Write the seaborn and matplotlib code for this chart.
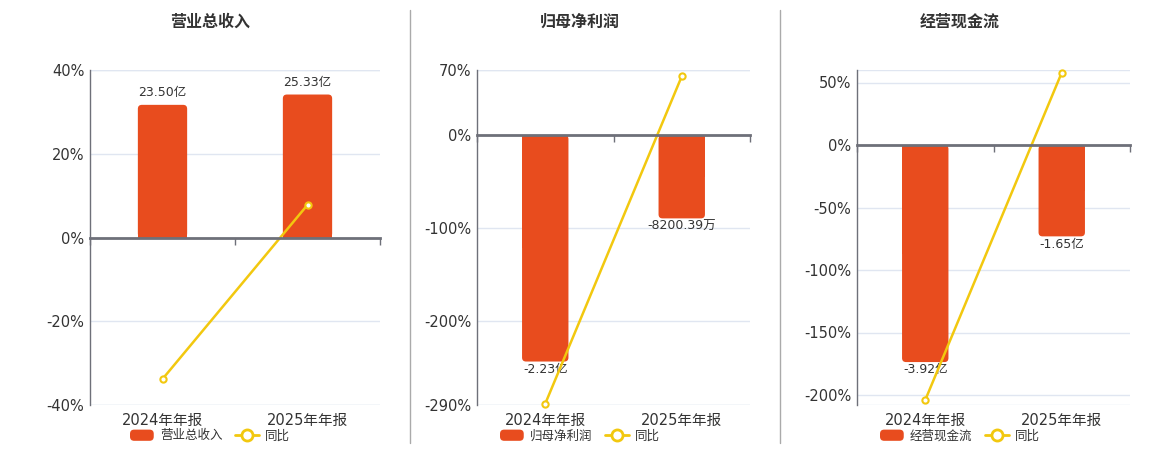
import matplotlib
matplotlib.use("Agg")
import matplotlib.pyplot as plt
import seaborn as sns
import numpy as np
from matplotlib.patches import FancyBboxPatch, Patch
from matplotlib.lines import Line2D
from matplotlib.legend_handler import HandlerPatch

sns.set_theme(style="white")
plt.rcParams['font.family'] = ['DejaVu Sans', 'Noto Sans CJK SC']

# data (bars in 亿, lines in %)
periods = ['2024年年报', '2025年年报']

revenue = [23.50, 25.33]
revenue_yoy = [-33.8, 7.79]
revenue_labels = ['23.50亿', '25.33亿']

net_profit = [-2.23, -0.820039]
net_profit_yoy = [-288.6, 63.2]
net_profit_labels = ['-2.23亿', '-8200.39万']

cash_flow = [-3.92, -1.65]
cash_flow_yoy = [-204.0, 57.9]
cash_flow_labels = ['-3.92亿', '-1.65亿']

titles = ['营业总收入', '归母净利润', '经营现金流']
pct_ticks = [[-40, -20, 0, 20, 40], [-290, -200, -100, 0, 70], [-200, -150, -100, -50, 0, 50]]
pct_lims = [(-40, 40), (-290, 70), (-208, 60)]
bar_scale = [1.348, 109.1, 44.3]   # percent units per 亿 on the hidden bar axis

BAR = '#E84C1E'
LINE = '#F2C80F'
AXIS = '#6E7079'
GRID = '#E0E6F1'
TXT = '#333333'

W, H = 1160, 450
fig = plt.figure(figsize=(W / 100, H / 100), dpi=100)

lefts = [90, 477, 857]
widths = [290, 273, 273]
centers = [210, 580, 960]
top_px, bot_px = 70, 405

panels = [(revenue, revenue_yoy, revenue_labels),
          (net_profit, net_profit_yoy, net_profit_labels),
          (cash_flow, cash_flow_yoy, cash_flow_labels)]


def round_handle(legend, orig_handle, xdescent, ydescent, width, height, fontsize):
    return FancyBboxPatch((-xdescent, -ydescent), width, height,
                          boxstyle="round,pad=0,rounding_size=3")


for i, (vals, yoy, labs) in enumerate(panels):
    rect = [lefts[i] / W, (H - bot_px) / H, widths[i] / W, (bot_px - top_px) / H]
    ax = fig.add_axes(rect)
    ax2 = ax.twinx()
    ax3 = ax.twinx()

    # bars on hidden axis
    sns.barplot(x=periods, y=vals, color=BAR, width=0.34, saturation=1, ax=ax2)
    lo, hi = pct_lims[i]
    ax2.set_ylim(lo / bar_scale[i], hi / bar_scale[i])
    pad = 4 if min(vals) > 0 else 1
    ax2.bar_label(ax2.containers[0], labels=labs, padding=pad, fontsize=9, color=TXT)

    # rounded ends of bars
    xupp = 2.0 / widths[i]
    yupp = (hi - lo) / bar_scale[i] / (bot_px - top_px)
    r = 4
    for p in list(ax2.patches):
        x0, w, h = p.get_x(), p.get_width(), p.get_height()
        y0 = min(0, h)
        ax2.add_patch(FancyBboxPatch((x0, y0), w, abs(h),
                                     boxstyle=f"round,pad=0,rounding_size={r * xupp}",
                                     mutation_aspect=yupp / xupp,
                                     facecolor=BAR, edgecolor='none'))
        p.set_height(h / 2)
        p.set_edgecolor('none')

    # yoy line
    sns.lineplot(x=np.arange(len(periods)), y=yoy, ax=ax3, color=LINE, lw=1.8,
                 marker='o', markersize=4.5, markerfacecolor='white',
                 markeredgecolor=LINE, markeredgewidth=1.5, sort=False, clip_on=False)
    ax3.set_ylim(lo, hi)

    # percent axis
    ax.set_ylim(lo, hi)
    ax.set_yticks(pct_ticks[i])
    ax.set_yticklabels([f'{t}%' for t in pct_ticks[i]])
    ax.grid(axis='y', color=GRID, lw=1)
    ax.axhline(lo, color=GRID, lw=1)
    ax.axhline(hi, color=GRID, lw=1)
    ax.tick_params(axis='y', length=0, pad=4, labelsize=10.5, labelcolor=TXT)
    ax.tick_params(axis='x', which='both', length=0, pad=6, labelsize=10.5, labelcolor=TXT)
    for s in ['top', 'right', 'bottom']:
        ax.spines[s].set_visible(False)
    ax.spines['left'].set_color(AXIS)
    ax.spines['left'].set_linewidth(1)

    for a in (ax2, ax3):
        a.set_yticks([])
        a.set_ylabel('')
        for s in ['top', 'right', 'left']:
            a.spines[s].set_visible(False)
    ax2.spines['bottom'].set_visible(False)

    # zero category axis
    ax3.xaxis.set_visible(True)
    ax3.spines['bottom'].set_visible(True)
    ax3.spines['bottom'].set_position(('data', 0))
    ax3.spines['bottom'].set_color(AXIS)
    ax3.spines['bottom'].set_linewidth(2)
    ax.set_xticks(range(len(periods)))
    ax.set_xticklabels(periods)
    ax.set_xticks([-0.5, 0.5, 1.5], minor=True)
    ax3.tick_params(axis='x', which='major', length=0, labelbottom=False)
    ax3.tick_params(axis='x', which='minor', bottom=True, length=5, width=1,
                    color=AXIS, direction='out')
    ax.set_xlim(-0.5, 1.5)
    ax.set_xlabel('')
    ax2.set_xlabel('')
    ax3.set_xlabel('')

    fig.text(centers[i] / W, 1 - 22 / H, titles[i], ha='center', va='center',
             fontsize=11.5, fontweight='bold', color=TXT)

    handles = [Patch(facecolor=BAR, edgecolor='none'),
               Line2D([], [], color=LINE, lw=2, marker='o', markersize=8,
                      markerfacecolor='white', markeredgecolor=LINE, markeredgewidth=2)]
    ax.legend(handles, [titles[i], '同比'], loc='center', ncol=2,
              bbox_to_anchor=(centers[i] / W, 1 - 436 / H), bbox_transform=fig.transFigure,
              frameon=False, fontsize=9, labelcolor=TXT, handlelength=1.9,
              handleheight=1.0, handletextpad=0.5, columnspacing=1.0,
              handler_map={Patch: HandlerPatch(patch_func=round_handle)})

for xs in (410, 780):
    fig.add_artist(Line2D([xs / W, xs / W], [1 - 443 / H, 1 - 10 / H],
                          color='#AAAAAA', lw=1, transform=fig.transFigure))

fig.savefig('out.png', dpi=100)
